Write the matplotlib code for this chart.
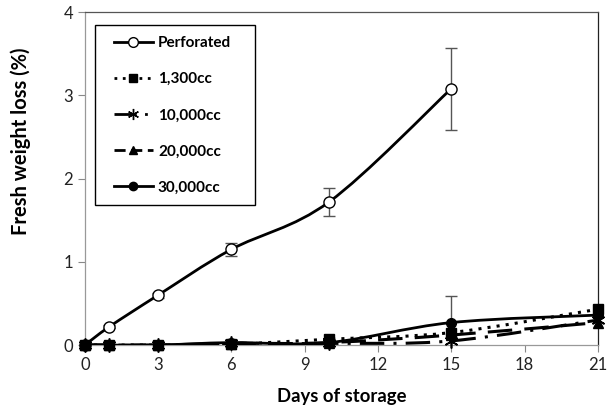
import numpy as np
import matplotlib.pyplot as plt
from matplotlib.path import Path
from matplotlib.patches import PathPatch, Rectangle
from matplotlib.lines import Line2D

days_perf = [0, 1, 3, 6, 10, 15]
perforated = [0, 0.22, 0.60, 1.15, 1.72, 3.08]
perf_err = [0, 0.02, 0.03, 0.08, 0.17, 0.49]

days = [0, 1, 3, 6, 10, 15, 21]
cc1300 = [0, 0, 0, 0.01, 0.07, 0.15, 0.43]
cc10000 = [0, 0, 0, 0.02, 0.02, 0.05, 0.30]
cc20000 = [0, 0, 0, 0.01, 0.03, 0.12, 0.27]
cc30000 = [0, 0, 0, 0.03, 0.03, 0.27, 0.36]
cc30000_err = [0, 0, 0, 0, 0, 0.32, 0]

labels = ["Perforated", "1,300cc", "10,000cc", "20,000cc", "30,000cc"]

plt.rcParams['font.family'] = ['Lato', 'DejaVu Sans']

fig = plt.figure(figsize=(6.15, 4.05), dpi=100)
ax = fig.add_axes([0.138, 0.148, 0.834, 0.822])


def smooth(ax, x, y, **kw):
    # Excel-like smoothed line: Catmull-Rom converted to cubic Bezier
    p = np.column_stack([x, y]).astype(float)
    ext = np.vstack([p[0], p, p[-1]])
    verts = [p[0]]
    codes = [Path.MOVETO]
    for i in range(len(p) - 1):
        p0, p1, p2, p3 = ext[i], ext[i + 1], ext[i + 2], ext[i + 3]
        verts += [p1 + (p2 - p0) / 6, p2 - (p3 - p1) / 6, p2]
        codes += [Path.CURVE4] * 3
    ax.add_patch(PathPatch(Path(verts, codes), fill=False, **kw))


smooth(ax, days_perf, perforated, lw=2, color='black', zorder=3)
smooth(ax, days, cc1300, lw=2.2, color='black', linestyle=(0, (1, 2)), zorder=3)
smooth(ax, days, cc10000, lw=2.2, color='black', linestyle=(0, (8, 3, 1, 3)), zorder=3)
smooth(ax, days, cc20000, lw=2.2, color='black', linestyle=(0, (8, 4)), zorder=3)
smooth(ax, days, cc30000, lw=2, color='black', zorder=3)

ax.errorbar(days_perf, perforated, yerr=perf_err, fmt='none', ecolor='#555555',
            elinewidth=1, capsize=4, zorder=2)
ax.errorbar(days, cc30000, yerr=cc30000_err, fmt='none', ecolor='#555555',
            elinewidth=1, capsize=4, zorder=2)

ax.plot(days_perf, perforated, ls='none', marker='o', ms=8, mfc='white', mec='black',
        mew=1, zorder=4, clip_on=False)
mk = dict(ls='none', color='black', clip_on=False, zorder=5)
ax.plot(days, cc10000, marker=(6, 2, 0), ms=10, mew=1.2, **mk)
ax.plot(days, cc20000, marker='^', ms=7, **mk)
ax.plot(days, cc30000, marker='o', ms=7, **mk)
ax.plot(days, cc1300, marker='s', ms=7, **mk)

ax.set_xlim(0, 21)
ax.set_ylim(0, 4)
ax.set_xticks(range(0, 22, 3))
ax.set_yticks([0, 1, 2, 3, 4])
ax.tick_params(direction='out', length=5, labelsize=12, width=0.8,
               colors='#888888', labelcolor='#222222')
for s in ax.spines.values():
    s.set_linewidth(0.9)
ax.spines['bottom'].set_color('#999999')
ax.spines['left'].set_color('#999999')
ax.spines['top'].set_color('#555555')
ax.spines['right'].set_color('#222222')

ax.set_xlabel('Days of storage', fontsize=13.3, fontweight='bold', labelpad=11)
ax.set_ylabel('Fresh weight loss (%)', fontsize=14.5, fontweight='bold')
ax.yaxis.set_label_coords(-0.105, 0.613)

handles = [
    Line2D([], [], color='black', lw=2, marker='o', mfc='white', ms=7),
    Line2D([], [], color='black', lw=2, ls=(0, (1, 2)), marker='s', ms=6),
    Line2D([], [], color='black', lw=2, ls=(0, (8, 3, 1, 3)), marker=(6, 2, 0), ms=8),
    Line2D([], [], color='black', lw=2, ls=(0, (4, 2)), marker='^', ms=6),
    Line2D([], [], color='black', lw=2, marker='o', ms=6),
]
ax.add_patch(Rectangle((0.0195, 0.42), 0.3115, 0.541, transform=ax.transAxes,
                       fill=False, edgecolor='black', lw=1, zorder=6))
leg = ax.legend(handles, labels, loc='upper left', bbox_to_anchor=(0.056, 0.928),
                prop={'weight': 'bold', 'size': 11}, frameon=False,
                handlelength=2.6, labelspacing=1.45,
                borderpad=0, borderaxespad=0, handletextpad=0.3)

fig.savefig('out.png', dpi=100)
